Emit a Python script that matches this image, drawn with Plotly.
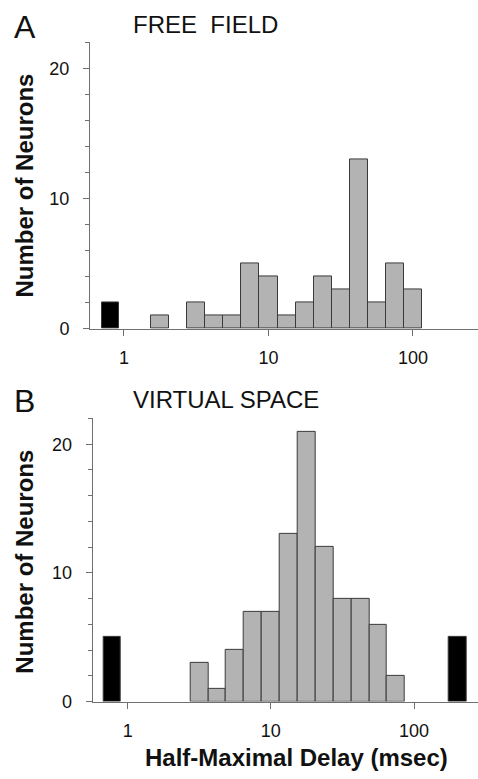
import numpy as np
import plotly.graph_objects as go

# ---- Data (bin centres in log10(msec), counts) ----
# Panel A: FREE FIELD
a_gray_log_centers = [0.25, 0.5, 0.625, 0.75, 0.875, 1.0, 1.125, 1.25, 1.375, 1.5, 1.625, 1.75, 1.875, 2.0]
a_gray_counts = [1, 2, 1, 1, 5, 4, 1, 2, 4, 3, 13, 2, 5, 3]
a_black_log_centers = [-0.094]
a_black_counts = [2]

# Panel B: VIRTUAL SPACE
b_gray_log_centers = [0.5, 0.625, 0.75, 0.875, 1.0, 1.125, 1.25, 1.375, 1.5, 1.625, 1.75, 1.875]
b_gray_counts = [3, 1, 4, 7, 7, 13, 21, 12, 8, 8, 6, 2]
b_black_log_centers = [-0.108, 2.305]
b_black_counts = [5, 5]

x_tick_vals = [0, 1, 2]
x_tick_text = ["1", "10", "100"]
y_tick_vals = [0, 10, 20]

GRAY = "#b3b3b3"
EDGE = "#3a3a3a"
AXC = "#707070"
FONT = "Liberation Sans, Arial, sans-serif"

fig = go.Figure()

def add_bars(xs, ys, color, width, xa, ya):
    fig.add_trace(go.Bar(
        x=xs, y=ys, width=width, marker=dict(color=color, line=dict(color=EDGE, width=1)),
        xaxis=xa, yaxis=ya, showlegend=False, hoverinfo="x+y"))

add_bars(a_gray_log_centers, a_gray_counts, GRAY, 0.125, "x", "y")
add_bars(a_black_log_centers, a_black_counts, "#000000", 0.122, "x", "y")
add_bars(b_gray_log_centers, b_gray_counts, GRAY, 0.125, "x2", "y2")
add_bars(b_black_log_centers, b_black_counts, "#000000", 0.122, "x2", "y2")

W, H = 478, 779

def xax(domain, rng, anchor):
    return dict(domain=domain, range=rng, anchor=anchor, showgrid=False, zeroline=False,
                showline=True, linecolor=AXC, linewidth=1, ticks="outside", ticklen=6,
                tickcolor=AXC, tickvals=x_tick_vals, ticktext=x_tick_text,
                tickfont=dict(family=FONT, size=18, color="#111"), ticklabelstandoff=7)

def yax(domain, rng, anchor):
    return dict(domain=domain, range=rng, anchor=anchor, showgrid=False, zeroline=False,
                showline=True, linecolor=AXC, linewidth=1, ticks="outside", ticklen=6,
                tickcolor=AXC, tickvals=y_tick_vals,
                minor=dict(dtick=2, tick0=0, ticks="outside", ticklen=4, tickcolor=AXC, showgrid=False),
                tickfont=dict(family=FONT, size=18, color="#111"), ticklabelstandoff=10)

fig.update_layout(
    width=W, height=H, margin=dict(l=0, r=0, t=0, b=0),
    paper_bgcolor="white", plot_bgcolor="white", bargap=0,
    font=dict(family=FONT, color="#111"),
    xaxis=xax([90 / W, 1.0], [-0.235, 2.45], "y"),
    yaxis=yax([(H - 333) / H, (H - 43) / H], [0, 22], "x"),
    xaxis2=xax([92.7 / W, 1.0], [-0.2445, 2.447], "y2"),
    yaxis2=yax([(H - 710.7) / H, (H - 423.3) / H], [0, 22.05], "x2"),
)

def ann(text, x, y, size, bold=False, angle=0, xanchor="left"):
    t = f"<b>{text}</b>" if bold else text
    fig.add_annotation(text=t, x=x / W, y=1 - y / H, xref="paper", yref="paper",
                       xanchor=xanchor, yanchor="middle", showarrow=False, textangle=angle,
                       font=dict(family=FONT, size=size, color="#111"))

ann("A", 12, 27, 32)
ann("FREE\u00a0 FIELD", 131, 25, 24)
ann("B", 12, 406, 32)
ann("VIRTUAL SPACE", 131, 405, 24)
ann("Number of Neurons", 25, 188, 24, bold=True, angle=-90, xanchor="center")
ann("Number of Neurons", 25, 569, 24, bold=True, angle=-90, xanchor="center")
ann("Half-Maximal Delay (msec)", 296, 767, 24, bold=True, xanchor="center")

fig.write_html("out.html")
